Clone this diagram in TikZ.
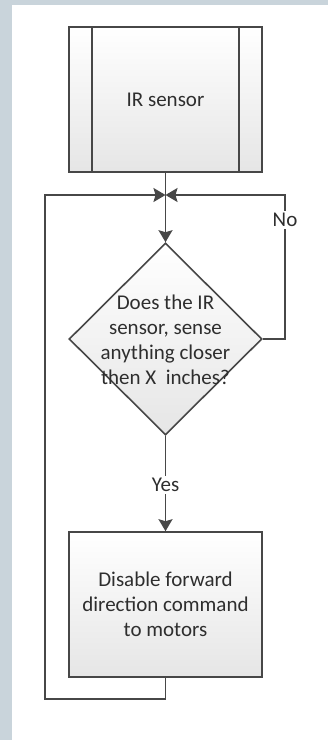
\documentclass[tikz,border=0pt]{standalone}
\usepackage{fontspec}
\setmainfont{Carlito}
\usetikzlibrary{shapes.geometric,arrows.meta,calc}
\definecolor{frame}{HTML}{C9D4DB}
\definecolor{ln}{HTML}{474747}
\definecolor{txt}{HTML}{2E2E2E}
\tikzset{
  boxfill/.style={top color=white, bottom color=black!10, draw=ln, line width=1.6pt},
  procbox/.style={boxfill, rectangle, minimum width=193pt, minimum height=145pt, inner sep=0pt},
  decbox/.style={boxfill, diamond, minimum width=193pt, minimum height=192pt, inner sep=0pt, shading angle=0},
  conn/.style={draw=ln, line width=1.6pt},
  arr/.style={conn, -{Stealth[length=12pt, width=14pt, inset=2pt]}},
  lbl/.style={font=\fontsize{21}{25}\selectfont, text=txt, align=center},
  edgelbl/.style={lbl, fill=white, inner sep=2pt},
}
\begin{document}
\begin{tikzpicture}[x=1pt, y=-1pt]
\useasboundingbox (0,0) rectangle (328,740);
\fill[frame] (0,0) rectangle (328,740);
\fill[white] (12,5) rectangle (328,740);

\node[procbox] (sensor) at (165.5,99.5) {};
\draw[conn] ($(sensor.north west)+(24,0)$) -- ($(sensor.south west)+(24,0)$);
\draw[conn] ($(sensor.north east)+(-24,0)$) -- ($(sensor.south east)+(-24,0)$);
\node[lbl] (sensortext) at (sensor.center) {IR sensor};

\coordinate (junction) at (165.5,195);
\node[decbox] (dec) at (165.5,339) {};
\node[lbl] (dectext) at (165.5,340) {Does the IR\\sensor, sense\\anything closer\\then X\ \ inches?};

\node[procbox] (action) at (165.5,604.5) {};
\node[lbl] (actiontext) at (action.center) {Disable forward\\direction command\\to motors};

\coordinate (rightturn) at (285,339);
\coordinate (bottomleft) at (45,699);

\draw[conn] (sensor.south) -- (junction);
\draw[arr] (junction) -- (dec.north);
\draw[arr] (dec.east) -- (rightturn) |- (junction);
\node[edgelbl] (nolbl) at (285,220) {No};
\draw[arr] (dec.south) -- (action.north);
\node[edgelbl] (yeslbl) at (165.5,485) {Yes};
\draw[arr] (action.south) |- (bottomleft) |- (junction);
\end{tikzpicture}
\end{document}
